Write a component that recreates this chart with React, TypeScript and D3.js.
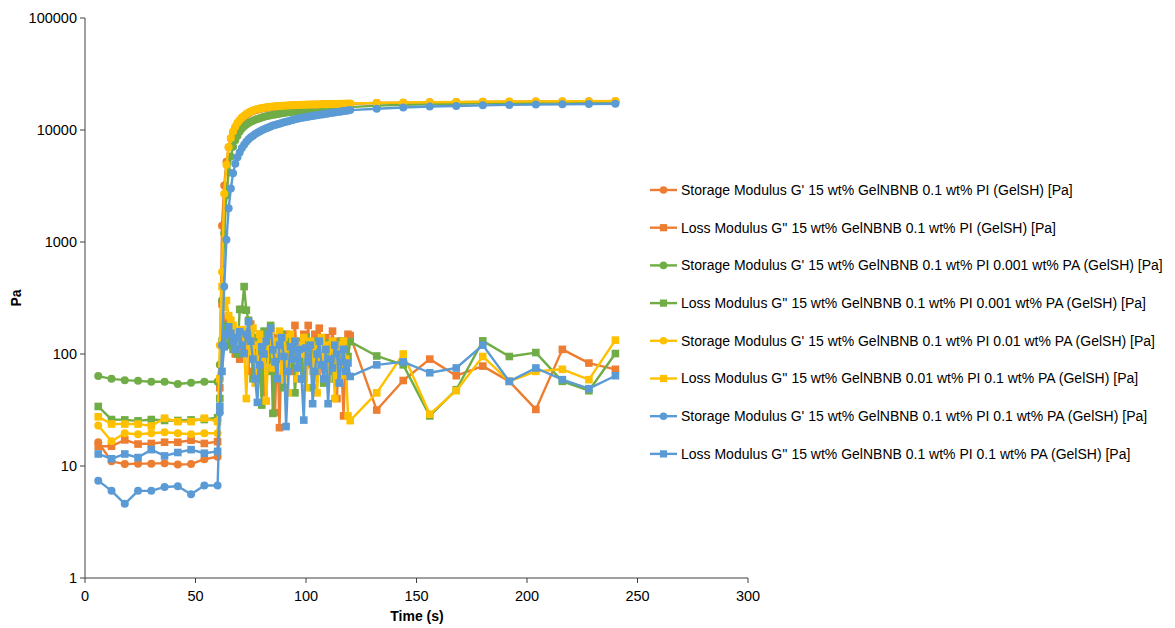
import React from "react";
import * as d3 from "d3";

// Time points (s)
const times = [
  6, 12, 18, 24, 30, 36, 42, 48, 54, 60,
  61, 62, 63, 64, 65, 66, 67, 68, 69, 70,
  71, 72, 73, 74, 75, 76, 77, 78, 79, 80,
  81, 82, 83, 84, 85, 86, 87, 88, 89, 90,
  91, 92, 93, 94, 95, 96, 97, 98, 99, 100,
  101, 102, 103, 104, 105, 106, 107, 108, 109, 110,
  111, 112, 113, 114, 115, 116, 117, 118, 119, 120,
  132, 144, 156, 168, 180, 192, 204, 216, 228, 240,
];

const orangeStorage = [
  16.3, 11, 10.4, 10.5, 10.5, 10.6, 10.3, 10.4, 11.5, 12.1,
  60, 1400, 3200, 5200, 7000, 8400, 9500, 10500, 11400, 12100,
  12700, 13200, 13700, 14100, 14450, 14750, 15000, 15200, 15380, 15530,
  15660, 15780, 15880, 15970, 16050, 16120, 16190, 16250, 16300, 16350,
  16400, 16440, 16480, 16520, 16560, 16590, 16620, 16650, 16680, 16710,
  16730, 16750, 16770, 16790, 16810, 16830, 16850, 16870, 16890, 16910,
  16930, 16950, 16970, 16990, 17010, 17030, 17050, 17070, 17090, 17110,
  17400, 17550, 17650, 17750, 17830, 17900, 17950, 18000, 18050, 18100,
];
const orangeLoss = [
  15, 15, 17.1, 15.7, 15.9, 16.3, 16.3, 17, 15.9, 16.5,
  50, 280, 200, 150, 180, 120, 140, 100, 130, 90,
  160, 110, 140, 70, 185, 100, 130, 60, 150, 110,
  45, 130, 90, 160, 100, 30, 140, 22, 120, 85,
  150, 100, 70, 130, 180, 90, 120, 60, 150, 100,
  180, 80, 130, 150, 70, 170, 110, 90, 140, 60,
  120, 160, 100, 40, 130, 80, 28, 110, 150, 146,
  31.6, 58, 90, 64, 78, 57, 32, 110, 83, 73,
];
const greenStorage = [
  63.5, 60, 58.4, 57.6, 56.6, 56.6, 54, 55.4, 56.6, 56.6,
  80, 300, 1200, 2600, 4200, 5800, 7100, 8100, 8900, 9700,
  10300, 10800, 11200, 11550, 11850, 12100, 12350, 12550, 12750, 12950,
  13100, 13250, 13400, 13530, 13660, 13780, 13900, 14000, 14100, 14200,
  14300, 14390, 14480, 14560, 14640, 14720, 14800, 14870, 14940, 15010,
  15080, 15140, 15200, 15260, 15320, 15380, 15430, 15480, 15530, 15580,
  15630, 15680, 15730, 15770, 15810, 15850, 15890, 15930, 15970, 16010,
  16500, 16800, 17000, 17150, 17300, 17400, 17500, 17550, 17600, 17650,
];
const greenLoss = [
  34, 26, 25.8, 25.3, 26, 25.5, 25.5, 25.8, 26, 27,
  40, 130, 180, 150, 120, 140, 110, 130, 100, 250,
  250, 400, 246, 200, 150, 60, 90, 140, 110, 35,
  160, 120, 70, 180, 29.5, 100, 130, 90, 150, 50,
  110, 140, 80, 120, 45, 90, 130, 100, 60, 140,
  90, 120, 50, 100, 130, 80, 110, 55, 95, 125,
  70, 105, 60, 115, 85, 130, 75, 110, 95, 129,
  96, 80, 28, 48, 131, 95, 103, 57, 47, 101,
];
const yellowStorage = [
  23, 16.6, 19.6, 19.2, 19.6, 20, 19.6, 19.2, 19.6, 19.6,
  120, 540, 2700, 4900, 7000, 8500, 9700, 10700, 11600, 12300,
  12900, 13400, 13900, 14300, 14650, 14950, 15200, 15400, 15550, 15700,
  15820, 15930, 16030, 16120, 16200, 16270, 16330, 16390, 16440, 16490,
  16530, 16570, 16610, 16650, 16680, 16710, 16740, 16770, 16800, 16830,
  16850, 16870, 16890, 16910, 16930, 16950, 16970, 16990, 17010, 17030,
  17050, 17070, 17090, 17110, 17130, 17150, 17170, 17190, 17210, 17230,
  17450, 17600, 17700, 17800, 17880, 17950, 18000, 18050, 18100, 18150,
];
const yellowLoss = [
  27.5, 23.7, 23.7, 23.7, 22.8, 26.7, 24.9, 24.9, 26.7, 24.9,
  60, 400, 260, 300, 220, 200, 180, 160, 150, 130,
  165, 120, 40, 140, 100, 170, 55, 120, 150, 90,
  130, 38, 110, 160, 75, 130, 100, 160, 60, 140,
  110, 45, 150, 90, 130, 60, 120, 100, 140, 50,
  110, 130, 70, 120, 45, 100, 140, 80, 120, 60,
  110, 130, 40, 100, 120, 65, 130, 90, 28, 25.4,
  45, 100, 29, 47, 95, 57, 70, 73, 59, 133,
];
const blueStorage = [
  7.4, 6.0, 4.6, 6.0, 6.0, 6.5, 6.6, 5.6, 6.7, 6.7,
  30, 120, 400, 1050, 2000, 3000, 4100, 5000, 5700, 6300,
  6900, 7400, 7850, 8250, 8600, 8900, 9200, 9450, 9700, 9950,
  10150, 10350, 10550, 10750, 10950, 11100, 11250, 11400, 11550, 11700,
  11850, 12000, 12150, 12300, 12450, 12600, 12700, 12850, 12950, 13050,
  13150, 13250, 13350, 13450, 13550, 13650, 13750, 13850, 13950, 14050,
  14150, 14250, 14350, 14450, 14550, 14650, 14750, 14850, 14950, 15050,
  15500, 15900, 16200, 16400, 16600, 16750, 16850, 16950, 17050, 17150,
];
const blueLoss = [
  12.8, 11.6, 12.8, 11.9, 14, 12.3, 13.2, 14, 13, 13.5,
  34, 70, 116, 150, 175, 153, 130, 110, 140, 158,
  120, 101, 150, 194, 130, 90, 60, 37, 80, 116,
  100, 130, 150, 170, 109, 85, 60, 120, 140, 95,
  22.5, 70, 116, 90, 130, 75, 110, 60, 25.7, 113,
  85, 120, 36, 70, 100, 130, 80, 60, 110, 36,
  90, 75, 120, 100, 55, 85, 110, 70, 83, 63,
  80, 85, 68, 75, 120, 57, 75, 59, 49, 64,
];

const seriesNames = [
  "Storage Modulus G' 15 wt% GelNBNB 0.1 wt% PI (GelSH) [Pa]",
  "Loss Modulus G'' 15 wt% GelNBNB 0.1 wt% PI (GelSH) [Pa]",
  "Storage Modulus G' 15 wt% GelNBNB 0.1 wt% PI 0.001 wt% PA (GelSH) [Pa]",
  "Loss Modulus G'' 15 wt% GelNBNB 0.1 wt% PI 0.001 wt% PA (GelSH) [Pa]",
  "Storage Modulus G' 15 wt% GelNBNB 0.1 wt% PI 0.01 wt% PA (GelSH) [Pa]",
  "Loss Modulus G'' 15 wt% GelNBNB 0.01 wt% PI 0.1 wt% PA (GelSH) [Pa]",
  "Storage Modulus G' 15 wt% GelNBNB 0.1 wt% PI 0.1 wt% PA (GelSH) [Pa]",
  "Loss Modulus G'' 15 wt% GelNBNB 0.1 wt% PI 0.1 wt% PA (GelSH) [Pa]",
];
const seriesValues = [
  orangeStorage, orangeLoss, greenStorage, greenLoss,
  yellowStorage, yellowLoss, blueStorage, blueLoss,
];
const seriesColors = ["#ED7D31", "#ED7D31", "#70AD47", "#70AD47", "#FFC000", "#FFC000", "#5B9BD5", "#5B9BD5"];
const seriesMarkers = ["circle", "square", "circle", "square", "circle", "square", "circle", "square"];

const xTicks = [0, 50, 100, 150, 200, 250, 300];
const yTicks = [1, 10, 100, 1000, 10000, 100000];

const W = 1175;
const H = 628;
const FONT = "'Liberation Sans', Arial, sans-serif";

export default function App() {
  const x = d3.scaleLinear().domain([0, 300]).range([85, 748]);
  const y = d3.scaleLog().domain([1, 100000]).range([578, 18]);
  const line = d3
    .line<number>()
    .x((_, i) => x(times[i]))
    .y((v) => y(v));

  const legendY0 = 190;
  const legendDy = 37.7;

  return (
    <svg
      width={W}
      height={H}
      style={{ position: "absolute", left: 0, top: 0, background: "#fff" }}
      fontFamily={FONT}
    >
      <rect x={0} y={0} width={W} height={H} fill="#fff" />
      {/* series */}
      {seriesValues.map((vals, si) => (
        <g key={si}>
          <path d={line(vals) || ""} fill="none" stroke={seriesColors[si]} strokeWidth={2.4} strokeLinejoin="round" />
          {vals.map((v, i) =>
            seriesMarkers[si] === "circle" ? (
              <circle key={i} cx={x(times[i])} cy={y(v)} r={4} fill={seriesColors[si]} />
            ) : (
              <rect key={i} x={x(times[i]) - 3.8} y={y(v) - 3.8} width={7.6} height={7.6} fill={seriesColors[si]} />
            )
          )}
        </g>
      ))}
      {/* axes */}
      <line x1={85} x2={85} y1={y(100000)} y2={y(1)} stroke="#404040" strokeWidth={1} />
      <line x1={85} x2={748} y1={y(1)} y2={y(1)} stroke="#404040" strokeWidth={1} />
      {yTicks.map((t) => (
        <g key={t}>
          <line x1={80} x2={85} y1={y(t)} y2={y(t)} stroke="#404040" />
          <text x={77} y={y(t)} dy="0.35em" textAnchor="end" fontSize={14.5} fill="#000">
            {t}
          </text>
        </g>
      ))}
      {xTicks.map((t) => (
        <g key={t}>
          <line x1={x(t)} x2={x(t)} y1={578} y2={583} stroke="#404040" />
          <text x={x(t)} y={596} dy="0.35em" textAnchor="middle" fontSize={14.5} fill="#000">
            {t}
          </text>
        </g>
      ))}
      <text x={417} y={616} dy="0.35em" textAnchor="middle" fontSize={14} fontWeight="bold" fill="#000">
        Time (s)
      </text>
      <text
        transform={`translate(16,298) rotate(-90)`}
        textAnchor="middle"
        dy="0.35em"
        fontSize={14}
        fontWeight="bold"
        fill="#000"
      >
        Pa
      </text>
      {/* legend */}
      {seriesNames.map((name, si) => {
        const ly = legendY0 + si * legendDy;
        return (
          <g key={si}>
            <line x1={650} x2={677} y1={ly} y2={ly} stroke={seriesColors[si]} strokeWidth={2.4} />
            {seriesMarkers[si] === "circle" ? (
              <circle cx={663.5} cy={ly} r={3.8} fill={seriesColors[si]} />
            ) : (
              <rect x={663.5 - 3.6} y={ly - 3.6} width={7.2} height={7.2} fill={seriesColors[si]} />
            )}
            <text x={681} y={ly} dy="0.35em" fontSize={14} fill="#000">
              {name}
            </text>
          </g>
        );
      })}
    </svg>
  );
}
